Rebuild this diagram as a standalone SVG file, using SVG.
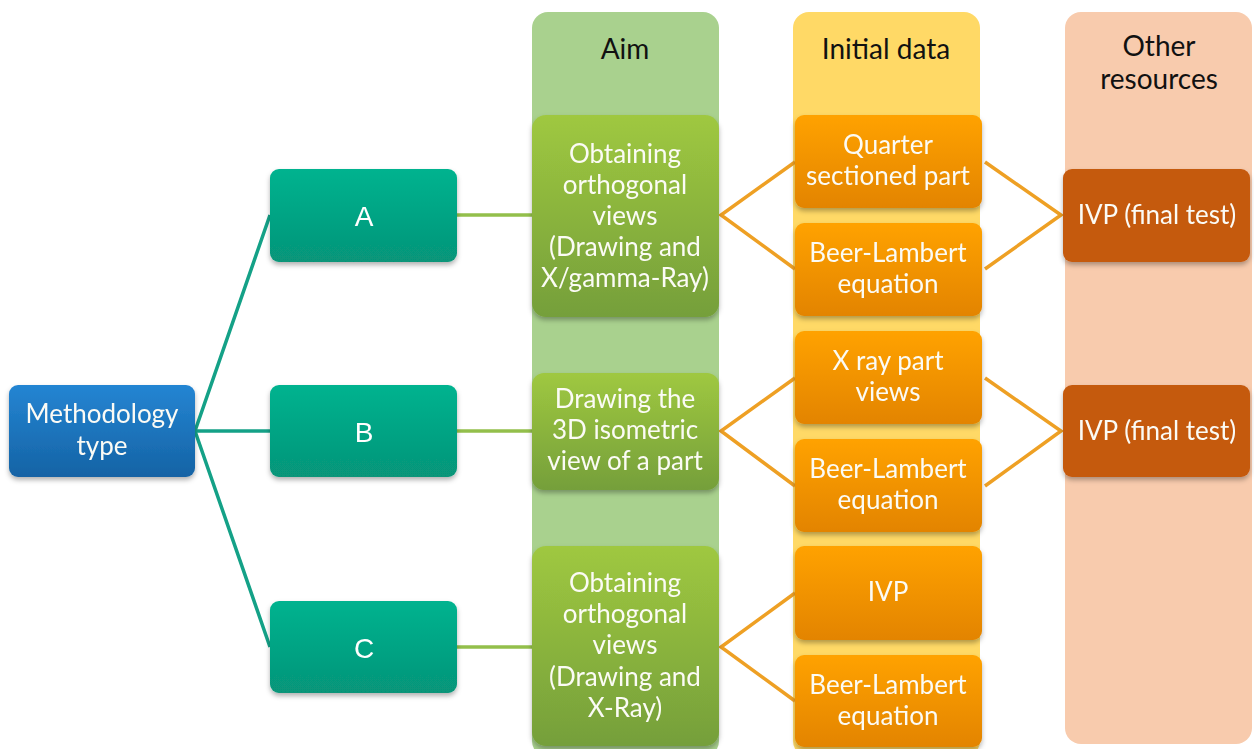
<svg xmlns="http://www.w3.org/2000/svg" width="1254" height="749" viewBox="0 0 1254 749">
  <defs>
    <linearGradient id="gBlue" x1="0" y1="0" x2="0" y2="1">
      <stop offset="0" stop-color="#2485d3"/>
      <stop offset="1" stop-color="#1563a5"/>
    </linearGradient>
    <linearGradient id="gTeal" x1="0" y1="0" x2="0" y2="1">
      <stop offset="0" stop-color="#02b38f"/>
      <stop offset="1" stop-color="#079579"/>
    </linearGradient>
    <linearGradient id="gGreen" x1="0" y1="0" x2="0" y2="1">
      <stop offset="0" stop-color="#9fc840"/>
      <stop offset="1" stop-color="#759f3a"/>
    </linearGradient>
    <linearGradient id="gOrange" x1="0" y1="0" x2="0" y2="1">
      <stop offset="0" stop-color="#ffa200"/>
      <stop offset="1" stop-color="#e38400"/>
    </linearGradient>
    <filter id="shadow" x="-10%" y="-10%" width="120%" height="130%">
      <feDropShadow dx="0" dy="3" stdDeviation="2.5" flood-color="#000" flood-opacity="0.3"/>
    </filter>
  </defs>
  <style>
    .col { stroke: none; }
    .node { filter: url(#shadow); }
    .head { font-family: Lato, "Open Sans", sans-serif; font-size: 28px; fill: #111; text-anchor: middle; }
    .lbl { font-family: Lato, "Open Sans", sans-serif; font-size: 26px; fill: #fbfbf5; text-anchor: middle; }
    .big { font-family: "Liberation Sans", Arial, sans-serif; font-size: 28px; fill: #fff; text-anchor: middle; }
    .teal { stroke: #14a187; stroke-width: 3.5; fill: none; }
    .green { stroke: #93bf4b; stroke-width: 3.5; fill: none; }
    .orange { stroke: #eea024; stroke-width: 3.5; fill: none; stroke-linejoin: miter; }
  </style>

  <rect width="1254" height="749" fill="#ffffff"/>

  <!-- column backgrounds -->
  <g id="col-aim">
    <rect class="col" x="532" y="12" width="187" height="745" rx="16" fill="#a9d18e"/>
    <text class="head" x="625" y="59">Aim</text>
  </g>
  <g id="col-initial">
    <rect class="col" x="793" y="12" width="187" height="745" rx="16" fill="#ffd966"/>
    <text class="head" x="886" y="59">Initial data</text>
  </g>
  <g id="col-other">
    <rect class="col" x="1065" y="12" width="187" height="732" rx="16" fill="#f8cbad"/>
    <text class="head" x="1159" y="56">Other</text>
    <text class="head" x="1159" y="89">resources</text>
  </g>

  <!-- connectors -->
  <g id="connectors">
    <polyline class="teal" points="270,215 195,431 270,647"/>
    <line class="teal" x1="195" y1="431" x2="270" y2="431"/>
    <line class="green" x1="457" y1="215" x2="532" y2="215"/>
    <line class="green" x1="457" y1="431" x2="532" y2="431"/>
    <line class="green" x1="457" y1="647" x2="532" y2="647"/>
    <polyline class="orange" points="795,162 721,215 795,269"/>
    <polyline class="orange" points="795,378 721,431 795,486"/>
    <polyline class="orange" points="795,593 721,647 795,701"/>
    <polyline class="orange" points="985,162 1061,215 985,269"/>
    <polyline class="orange" points="985,378 1061,431 985,486"/>
  </g>

  <!-- methodology -->
  <g id="n-method" class="node">
    <rect x="9" y="385" width="186" height="92" rx="9" fill="url(#gBlue)"/>
    <text class="lbl" x="102" y="423">Methodology</text>
    <text class="lbl" x="102" y="455">type</text>
  </g>

  <!-- types -->
  <g id="n-a" class="node">
    <rect x="270" y="169" width="187" height="93" rx="9" fill="url(#gTeal)"/>
    <text class="big" x="364" y="226">A</text>
  </g>
  <g id="n-b" class="node">
    <rect x="270" y="385" width="187" height="92" rx="9" fill="url(#gTeal)"/>
    <text class="big" x="364" y="442">B</text>
  </g>
  <g id="n-c" class="node">
    <rect x="270" y="601" width="187" height="92" rx="9" fill="url(#gTeal)"/>
    <text class="big" x="364" y="658">C</text>
  </g>

  <!-- aims -->
  <g id="n-aim-a" class="node">
    <rect x="532" y="115" width="187" height="202" rx="14" fill="url(#gGreen)"/>
    <text class="lbl" x="625" y="163">Obtaining</text>
    <text class="lbl" x="625" y="194">orthogonal</text>
    <text class="lbl" x="625" y="225">views</text>
    <text class="lbl" x="625" y="256">(Drawing and</text>
    <text class="lbl" x="625" y="287">X/gamma-Ray)</text>
  </g>
  <g id="n-aim-b" class="node">
    <rect x="532" y="373" width="187" height="117" rx="12" fill="url(#gGreen)"/>
    <text class="lbl" x="625" y="408">Drawing the</text>
    <text class="lbl" x="625" y="439">3D isometric</text>
    <text class="lbl" x="625" y="470">view of a part</text>
  </g>
  <g id="n-aim-c" class="node">
    <rect x="532" y="546" width="187" height="200" rx="14" fill="url(#gGreen)"/>
    <text class="lbl" x="625" y="592">Obtaining</text>
    <text class="lbl" x="625" y="623">orthogonal</text>
    <text class="lbl" x="625" y="654">views</text>
    <text class="lbl" x="625" y="686">(Drawing and</text>
    <text class="lbl" x="625" y="717">X-Ray)</text>
  </g>

  <!-- initial data -->
  <g id="n-quarter" class="node">
    <rect x="795" y="115" width="187" height="93" rx="9" fill="url(#gOrange)"/>
    <text class="lbl" x="888" y="154">Quarter</text>
    <text class="lbl" x="888" y="185">sectioned part</text>
  </g>
  <g id="n-beer-a" class="node">
    <rect x="795" y="223" width="187" height="93" rx="9" fill="url(#gOrange)"/>
    <text class="lbl" x="888" y="262">Beer-Lambert</text>
    <text class="lbl" x="888" y="293">equation</text>
  </g>
  <g id="n-xray" class="node">
    <rect x="795" y="331" width="187" height="93" rx="9" fill="url(#gOrange)"/>
    <text class="lbl" x="888" y="370">X ray part</text>
    <text class="lbl" x="888" y="401">views</text>
  </g>
  <g id="n-beer-b" class="node">
    <rect x="795" y="439" width="187" height="93" rx="9" fill="url(#gOrange)"/>
    <text class="lbl" x="888" y="478">Beer-Lambert</text>
    <text class="lbl" x="888" y="509">equation</text>
  </g>
  <g id="n-ivp" class="node">
    <rect x="795" y="546" width="187" height="94" rx="9" fill="url(#gOrange)"/>
    <text class="lbl" x="888" y="601">IVP</text>
  </g>
  <g id="n-beer-c" class="node">
    <rect x="795" y="655" width="187" height="92" rx="9" fill="url(#gOrange)"/>
    <text class="lbl" x="888" y="694">Beer-Lambert</text>
    <text class="lbl" x="888" y="725">equation</text>
  </g>

  <!-- other resources -->
  <g id="n-ivp-final-a" class="node">
    <rect x="1063" y="169" width="187" height="93" rx="9" fill="#c55a11"/>
    <text class="lbl" x="1157" y="224">IVP (final test)</text>
  </g>
  <g id="n-ivp-final-b" class="node">
    <rect x="1063" y="385" width="187" height="92" rx="9" fill="#c55a11"/>
    <text class="lbl" x="1157" y="440">IVP (final test)</text>
  </g>
</svg>
